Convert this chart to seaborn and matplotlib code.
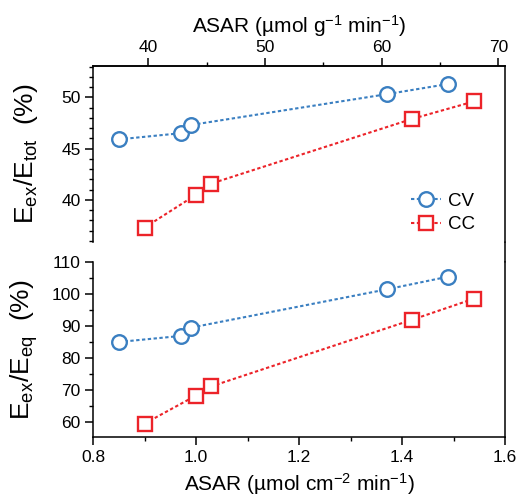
import matplotlib
matplotlib.use("Agg")
import matplotlib.pyplot as plt
import seaborn as sns
import numpy as np
import pandas as pd
from matplotlib.lines import Line2D
from matplotlib.ticker import MultipleLocator, FixedLocator

# ---- data ----
x_cv = [0.85, 0.97, 0.99, 1.37, 1.49]
x_cc = [0.90, 1.00, 1.03, 1.42, 1.54]
tot_cv = [45.9, 46.5, 47.3, 50.3, 51.3]
tot_cc = [37.3, 40.5, 41.6, 47.9, 49.6]
eq_cv = [85.0, 86.9, 89.5, 101.5, 105.5]
eq_cc = [59.4, 68.2, 71.1, 92.0, 98.6]
series_names = ["CV", "CC"]
top_ticks = [40, 50, 60, 70]
top_minor = [45, 55, 65]
mass_factor = 44.1  # µmol g-1 per µmol cm-2

blue = "#3a7fc1"
red = "#ec2329"

sns.set_style("ticks")
plt.rcParams["font.family"] = ["Liberation Sans", "DejaVu Sans"]
plt.rcParams["mathtext.fontset"] = "custom"
plt.rcParams["mathtext.rm"] = "Liberation Sans"
plt.rcParams["mathtext.it"] = "Liberation Sans"
for k in ["text.color", "axes.labelcolor", "xtick.color", "ytick.color",
          "axes.edgecolor", "xtick.labelcolor", "ytick.labelcolor"]:
    plt.rcParams[k] = "black"
plt.rcParams["axes.linewidth"] = 1.1
plt.rcParams["xtick.major.width"] = 1.1
plt.rcParams["ytick.major.width"] = 1.1
plt.rcParams["xtick.minor.width"] = 1.0
plt.rcParams["ytick.minor.width"] = 1.0
plt.rcParams["xtick.direction"] = "out"
plt.rcParams["ytick.direction"] = "out"

W, H = 520, 503
fig = plt.figure(figsize=(W / 100, H / 100), dpi=100)

def frac(l, t, r, b):
    return [l / W, 1 - b / H, (r - l) / W, (b - t) / H]

ax1 = fig.add_axes(frac(93, 66, 505, 242))
ax2 = fig.add_axes(frac(93, 262.3, 505, 437))

dash = (0, (1.6, 1.2))
ms = 10.5
mew = 1.7

def draw(ax, xs, ys, color, marker, label, size):
    sns.lineplot(x=xs, y=ys, ax=ax, color=color, marker=marker, linestyle=dash,
                 linewidth=1.5, markersize=size, markerfacecolor="white",
                 markeredgecolor=color, markeredgewidth=mew, label=label,
                 legend=False)

draw(ax1, x_cv, tot_cv, blue, "o", series_names[0], ms)
draw(ax1, x_cc, tot_cc, red, "s", series_names[1], ms - 1)
draw(ax2, x_cv, eq_cv, blue, "o", series_names[0], ms)
draw(ax2, x_cc, eq_cc, red, "s", series_names[1], ms - 1)

for ax in (ax1, ax2):
    ax.set_xlim(0.8, 1.6)
    ax.xaxis.set_major_locator(MultipleLocator(0.2))
    ax.xaxis.set_minor_locator(MultipleLocator(0.1))
    ax.tick_params(axis="both", which="major", length=6, labelsize=12.5, pad=3)
    ax.tick_params(axis="both", which="minor", length=3)
    ax.set_xlabel("")
    ax.set_ylabel("")

ax1.set_ylim(35.9, 53.05)
ax1.yaxis.set_major_locator(MultipleLocator(5))
ax1.yaxis.set_minor_locator(MultipleLocator(1))
ax1.spines["bottom"].set_visible(False)
ax1.tick_params(axis="x", which="both", bottom=False, labelbottom=False)

ax2.set_ylim(55.2, 110)
ax2.yaxis.set_major_locator(MultipleLocator(10))
ax2.yaxis.set_minor_locator(MultipleLocator(5))
ax2.spines["top"].set_visible(False)

sec = ax1.secondary_xaxis("top", functions=(lambda x: x * mass_factor,
                                            lambda x: x / mass_factor))
sec.xaxis.set_major_locator(FixedLocator(top_ticks))
sec.xaxis.set_minor_locator(FixedLocator(top_minor))
sec.tick_params(axis="x", which="major", length=6, labelsize=12.5, width=1.1, pad=2)
sec.tick_params(axis="x", which="minor", length=3, width=1.0)
sec.set_xlabel(r"ASAR (µmol g$\mathregular{^{-1}}$ min$\mathregular{^{-1}}$)", fontsize=15, labelpad=5)

ax2.set_xlabel(r"ASAR (µmol cm$\mathregular{^{-2}}$ min$\mathregular{^{-1}}$)", fontsize=15, labelpad=5)
ax1.set_ylabel(r"$\mathregular{E_{ex}/E_{tot}}$  (%)", fontsize=19)
ax2.set_ylabel(r"$\mathregular{E_{ex}/E_{eq}}$  (%)", fontsize=19)
ax1.yaxis.set_label_coords(-0.128, 0.5)
ax2.yaxis.set_label_coords(-0.128, 0.5)

# connect the right spines across the gap
fig.add_artist(Line2D([505 / W, 505 / W], [1 - 242 / H, 1 - 262.3 / H],
                      transform=fig.transFigure, color="black", linewidth=1.1))

leg = ax1.legend(loc="lower right", bbox_to_anchor=(0.955, -0.015), frameon=False,
                 fontsize=13.5, handlelength=1.6, handletextpad=0.4, labelspacing=0.35,
                 borderaxespad=0.2)

fig.savefig("out.png", dpi=100)
